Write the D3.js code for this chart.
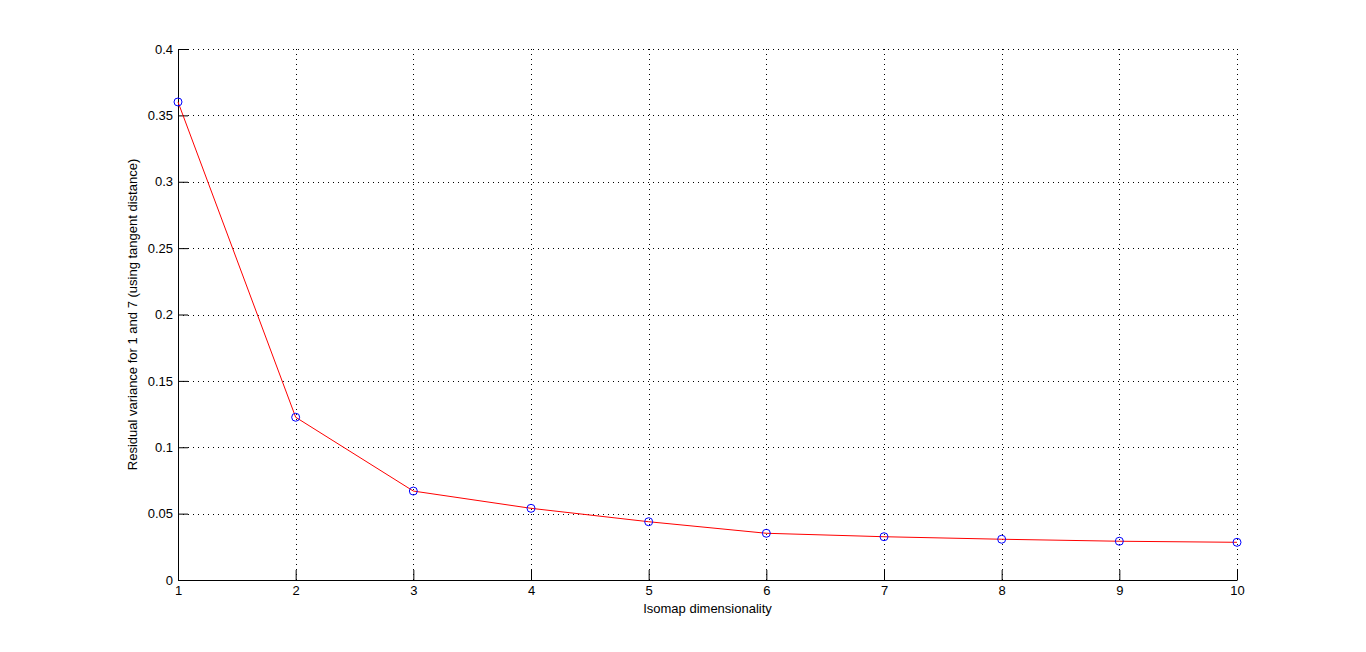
<!DOCTYPE html>
<html>
<head>
<meta charset="utf-8">
<script src="https://cdn.jsdelivr.net/npm/d3@7"></script>
<style>
  body { margin: 0; background: #fff; }
  text { font-family: Arial, "Liberation Sans", sans-serif; }
</style>
</head>
<body>
<script>
// data
var dims = [1, 2, 3, 4, 5, 6, 7, 8, 9, 10];
var residual = [0.3601, 0.1226, 0.0670, 0.0540, 0.0439, 0.0352, 0.0326, 0.0307, 0.0292, 0.0284];
var yTicks = [0, 0.05, 0.1, 0.15, 0.2, 0.25, 0.3, 0.35, 0.4];
var xLabel = "Isomap dimensionality";
var yLabel = "Residual variance for 1 and 7 (using tangent distance)";

var width = 1366, height = 652;
var margin = {left: 178, right: 129, top: 49, bottom: 72};
var fontSize = 13;

var x = d3.scaleLinear().domain([1, 10]).range([margin.left, width - margin.right]);
var y = d3.scaleLinear().domain([0, 0.4]).range([height - margin.bottom, margin.top]);

var svg = d3.select("body").append("svg")
    .attr("width", width)
    .attr("height", height);

// grid
var grid = svg.append("g").attr("class", "grid")
    .attr("stroke", "black")
    .attr("stroke-width", 1)
    .attr("stroke-dasharray", "1,4");

grid.selectAll("line.v")
    .data(dims.slice(1))
    .enter().append("line")
    .attr("x1", function(d){ return Math.round(x(d)) + 0.5; })
    .attr("x2", function(d){ return Math.round(x(d)) + 0.5; })
    .attr("y1", y(0.4))
    .attr("y2", y(0));

grid.selectAll("line.h")
    .data(yTicks.slice(1))
    .enter().append("line")
    .attr("y1", function(d){ return Math.round(y(d)) + 0.5; })
    .attr("y2", function(d){ return Math.round(y(d)) + 0.5; })
    .attr("x1", x(1))
    .attr("x2", x(10));

// axes: ticks pointing inward
var xAxis = d3.axisBottom(x).tickValues(dims).tickFormat(d3.format("d"))
    .tickSizeInner(-10).tickSizeOuter(0).tickPadding(6);
var yAxis = d3.axisLeft(y).tickValues(yTicks).tickFormat(function(d){ return d === 0 ? "0" : d3.format("")(+d.toFixed(2)); })
    .tickSizeInner(-10).tickSizeOuter(0).tickPadding(5);

var gx = svg.append("g")
    .attr("transform", "translate(0," + Math.round(y(0)) + ")")
    .call(xAxis);
var gy = svg.append("g")
    .attr("transform", "translate(" + Math.round(x(1)) + ",0)")
    .call(yAxis);

[gx, gy].forEach(function(g){
    g.select(".domain").attr("stroke", "black").attr("stroke-width", 1);
    g.selectAll(".tick line").attr("stroke", "black");
    g.selectAll("text").attr("fill", "black").attr("font-size", fontSize)
        .attr("font-family", "Arial, 'Liberation Sans', sans-serif");
});

// line
var line = d3.line()
    .x(function(d, i){ return x(dims[i]); })
    .y(function(d){ return y(d); });

svg.append("path")
    .datum(residual)
    .attr("fill", "none")
    .attr("stroke", "red")
    .attr("stroke-width", 1)
    .attr("d", line);

svg.selectAll("circle")
    .data(residual)
    .enter().append("circle")
    .attr("cx", function(d, i){ return x(dims[i]); })
    .attr("cy", function(d){ return y(d); })
    .attr("r", 4)
    .attr("fill", "none")
    .attr("stroke", "blue")
    .attr("stroke-width", 1);

// labels
svg.append("text")
    .attr("x", (x(1) + x(10)) / 2)
    .attr("y", 613)
    .attr("text-anchor", "middle")
    .attr("font-size", fontSize)
    .text(xLabel);

svg.append("text")
    .attr("transform", "translate(137," + (y(0) + y(0.4)) / 2 + ") rotate(-90)")
    .attr("text-anchor", "middle")
    .attr("font-size", fontSize)
    .text(yLabel);
</script>
</body>
</html>
